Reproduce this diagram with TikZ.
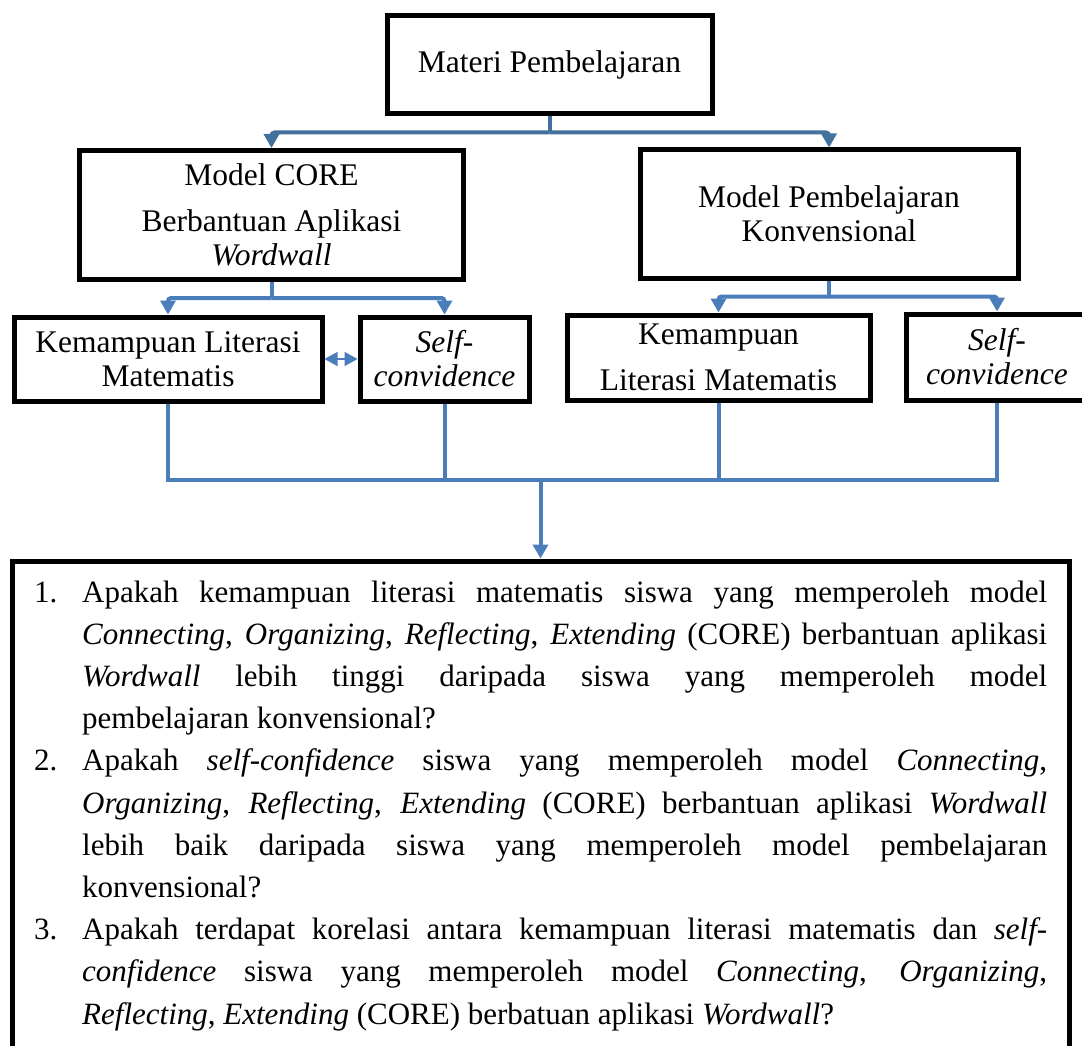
\documentclass[tikz,border=0pt]{standalone}
\usepackage{fontspec}
\setmainfont{Liberation Serif}
\usepackage{xcolor}
\usetikzlibrary{arrows.meta}
\definecolor{birutua}{RGB}{65,113,156}
\definecolor{biru}{RGB}{74,126,187}
\newcommand{\jl}[1]{\makebox[965pt][s]{#1}}

\begin{document}
\begin{tikzpicture}[x=1pt,y=-1pt,
    kotak/.style={draw=black,line width=5pt,inner sep=0pt,align=center,
        font=\fontsize{31.5}{34}\selectfont},
    alur/.style={draw=biru,line width=4pt,rounded corners=3pt},
    alurtua/.style={draw=birutua,line width=4pt,rounded corners=3pt},
    panah/.style={-{Triangle[width=15pt,length=14pt]}}]
            \useasboundingbox (0,0) rectangle (1082,1046);
            \clip (0,0) rectangle (1082,1046);
            \fill[white] (0,0) rectangle (1082,1046);
            \node[kotak,minimum width=325pt,minimum height=98pt] (materi) at (549.5,65) {Materi Pembelajaran};
            \node[kotak,minimum width=384pt,minimum height=129pt] (core) at (271.5,215)
                {Model CORE\\[12pt]Berbantuan Aplikasi\\\textit{Wordwall}};
            \node[kotak,minimum width=378pt,minimum height=128pt] (konv) at (829,214)
                {Model Pembelajaran\\Konvensional};
            \node[kotak,minimum width=308pt,minimum height=84pt] (klmA) at (168,359)
                {Kemampuan Literasi\\Matematis};
            \node[kotak,minimum width=169pt,minimum height=84pt] (selfA) at (444.5,359)
                {\textit{Self-}\\\textit{convidence}};
            \node[kotak,minimum width=303pt,minimum height=85pt] (klmB) at (718.5,357.5)
                {Kemampuan\\[12pt]Literasi Matematis};
            \node[kotak,minimum width=182pt,minimum height=86pt] (selfB) at (997,357)
                {\textit{Self-}\\\textit{convidence}};
            \node[kotak,minimum width=1057pt,minimum height=540pt] (rumusan) at (540.5,831) {};
            \node[anchor=base west,inner sep=0pt,text width=1013pt,align=justify,
                font=\fontsize{31}{42.2}\selectfont] (soal) at (34,602) {%
                \hangindent=48pt\hangafter=1\noindent\makebox[48pt][l]{1.}%
                \jl{Apakah kemampuan literasi matematis siswa yang memperoleh model}\newline
                \jl{\textit{Connecting}, \textit{Organizing}, \textit{Reflecting}, \textit{Extending} (CORE) berbantuan aplikasi}\newline
                \jl{\textit{Wordwall} lebih tinggi daripada siswa yang memperoleh model}\newline
                pembelajaran konvensional?\par
                \hangindent=48pt\hangafter=1\noindent\makebox[48pt][l]{2.}%
                \jl{Apakah \textit{self-confidence} siswa yang memperoleh model \textit{Connecting},}\newline
                \jl{\textit{Organizing}, \textit{Reflecting}, \textit{Extending} (CORE) berbantuan aplikasi \textit{Wordwall}}\newline
                \jl{lebih baik daripada siswa yang memperoleh model pembelajaran}\newline
                konvensional?\par
                \hangindent=48pt\hangafter=1\noindent\makebox[48pt][l]{3.}%
                \jl{Apakah terdapat korelasi antara kemampuan literasi matematis dan \textit{self-}}\newline
                \jl{\textit{confidence} siswa yang memperoleh model \textit{Connecting}, \textit{Organizing},}\newline
                \textit{Reflecting}, \textit{Extending} (CORE) berbatuan aplikasi \textit{Wordwall}?\par};
            \draw[alurtua] (materi.south) -- ++(0,16) coordinate (cabang);
            \draw[alurtua,panah] (cabang) -| (core.north);
            \draw[alurtua,panah] (cabang) -| (konv.north);
            \draw[alur] (core.south) -- ++(0,16) coordinate (cabangA);
            \draw[alur,panah] (cabangA) -| (klmA.north);
            \draw[alur,panah] (cabangA) -| (selfA.north);
            \draw[alur] (konv.south) -- ++(0,16) coordinate (cabangB);
            \draw[alur,panah] (cabangB) -| (klmB.north);
            \draw[alur,panah] (cabangB) -| (selfB.north);
            \draw[alur,line width=1.5pt,{Triangle[width=14pt,length=13pt]}-{Triangle[width=14pt,length=13pt]}]
                (klmA.east) -- (selfA.west);
            \coordinate (gabung) at (rumusan.north |- 0,480);
            \draw[alur,rounded corners=0pt] (klmA.south) -- (klmA.south |- gabung) -- (selfB.south |- gabung) -- (selfB.south);
            \draw[alur] (selfA.south) -- (selfA.south |- gabung);
            \draw[alur] (klmB.south) -- (klmB.south |- gabung);
            \draw[alur,panah] (gabung) -- (rumusan.north);
\end{tikzpicture}
\end{document}
